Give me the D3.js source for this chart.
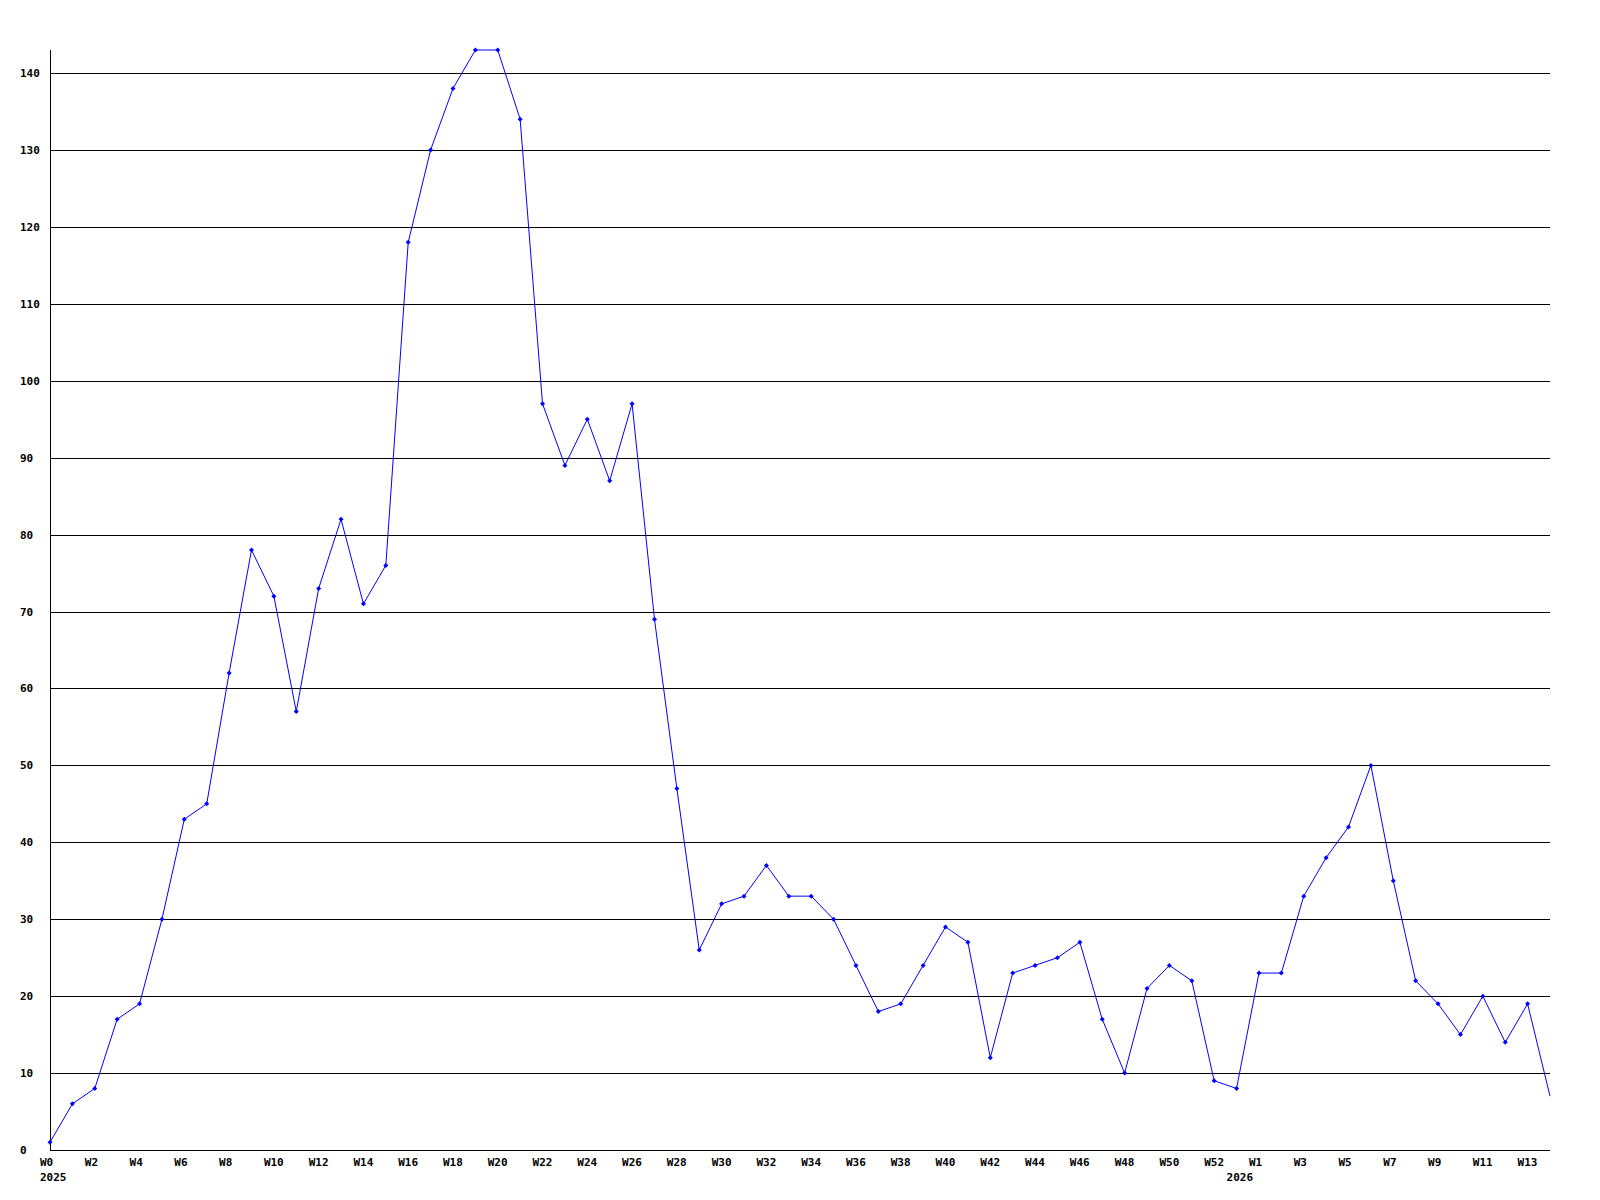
<!DOCTYPE html>
<html>
<head>
<meta charset="utf-8">
<script src="https://cdn.jsdelivr.net/npm/d3@7"></script>
<style>
    body { margin: 0; background: #fff; }
    text { font-family: "DejaVu Sans Mono", monospace; font-weight: bold; font-size: 11px; fill: #000; }
</style>
</head>
<body>
<div id="Area"></div>
<script>
// weekly counts, 2025 W0 .. W52, then 2026 W0 .. W14
var weeks2025 = [
    1, 6, 8, 17, 19, 30, 43, 45, 62, 78,
    72, 57, 73, 82, 71, 76, 118, 130, 138, 143,
    143, 134, 97, 89, 95, 87, 97, 69, 47, 26,
    32, 33, 37, 33, 33, 30, 24, 18, 19, 24,
    29, 27, 12, 23, 24, 25, 27, 17, 10, 21,
    24, 22, 9
];
var weeks2026 = [8, 23, 23, 33, 38, 42, 50, 35, 22, 19, 15, 20, 14, 19, 7];
var yTicks = [0, 10, 20, 30, 40, 50, 60, 70, 80, 90, 100, 110, 120, 130, 140];
var years = ["2025", "2026"];

var width = 1600;
var height = 1200;
// note: "top" is taken by window.top, so use plot* names
var plotLeft = 50, plotRight = 1550, plotTop = 50, plotBottom = 1150;

var data = [];
weeks2025.forEach(function(v, i) { data.push({label: "W" + i, year: 0, week: i, value: v}); });
weeks2026.forEach(function(v, i) { data.push({label: "W" + i, year: 1, week: i, value: v}); });

var svg = d3.select("#Area")
    .append("svg")
    .attr("width", width)
    .attr("height", height);

var x = d3.scaleLinear()
    .domain([0, data.length - 1])
    .range([plotLeft, plotRight]);

var y = d3.scaleLinear()
    .domain([0, d3.max(data, function(d) { return d.value; })])
    .range([plotBottom, plotTop]);

// horizontal grid
svg.append("g")
    .selectAll("line")
    .data(yTicks.slice(1))
    .enter()
    .append("line")
        .attr("x1", plotLeft)
        .attr("x2", plotRight)
        .attr("y1", function(d) { return Math.round(y(d)) + 0.5; })
        .attr("y2", function(d) { return Math.round(y(d)) + 0.5; })
        .attr("stroke", "#000")
        .attr("shape-rendering", "crispEdges");

// y labels, left aligned
svg.append("g")
    .selectAll("text")
    .data(yTicks)
    .enter()
    .append("text")
        .attr("x", 20)
        .attr("y", function(d) { return Math.round(y(d)); })
        .attr("dy", "0.35em")
        .text(function(d) { return d; });

// axes
svg.append("line")
    .attr("x1", plotLeft + 0.5).attr("x2", plotLeft + 0.5)
    .attr("y1", plotTop).attr("y2", plotBottom + 0.5)
    .attr("stroke", "#000")
    .attr("shape-rendering", "crispEdges");

svg.append("line")
    .attr("x1", plotLeft).attr("x2", plotRight)
    .attr("y1", plotBottom + 0.5).attr("y2", plotBottom + 0.5)
    .attr("stroke", "#000")
    .attr("shape-rendering", "crispEdges");

// x labels: every other index, week number
svg.append("g")
    .selectAll("text")
    .data(data.filter(function(d, i) { return i % 2 == 0; }))
    .enter()
    .append("text")
        .attr("x", function(d) { return x(data.indexOf(d)) - 10; })
        .attr("y", 1162)
        .attr("dy", "0.35em")
        .text(function(d) { return d.label; });

// year labels at week 0 of each year
svg.append("g")
    .selectAll("text")
    .data(data.filter(function(d) { return d.week == 0; }))
    .enter()
    .append("text")
        .attr("x", function(d) { return x(data.indexOf(d)) - 10; })
        .attr("y", 1177)
        .attr("dy", "0.35em")
        .text(function(d) { return years[d.year]; });

// the line
svg.append("path")
    .datum(data)
    .attr("fill", "none")
    .attr("stroke", "#0000ff")
    .attr("stroke-width", 1)
    .attr("d", d3.line()
        .x(function(d, i) { return x(i); })
        .y(function(d) { return y(d.value); }));

// small markers
svg.append("g")
    .selectAll("path")
    .data(data.slice(0, data.length - 1))
    .enter()
    .append("path")
        .attr("transform", function(d, i) { return "translate(" + x(i) + "," + y(d.value) + ")"; })
        .attr("d", "M0,-2.5L2.5,0L0,2.5L-2.5,0Z")
        .attr("fill", "#0000ff");
</script>
</body>
</html>
